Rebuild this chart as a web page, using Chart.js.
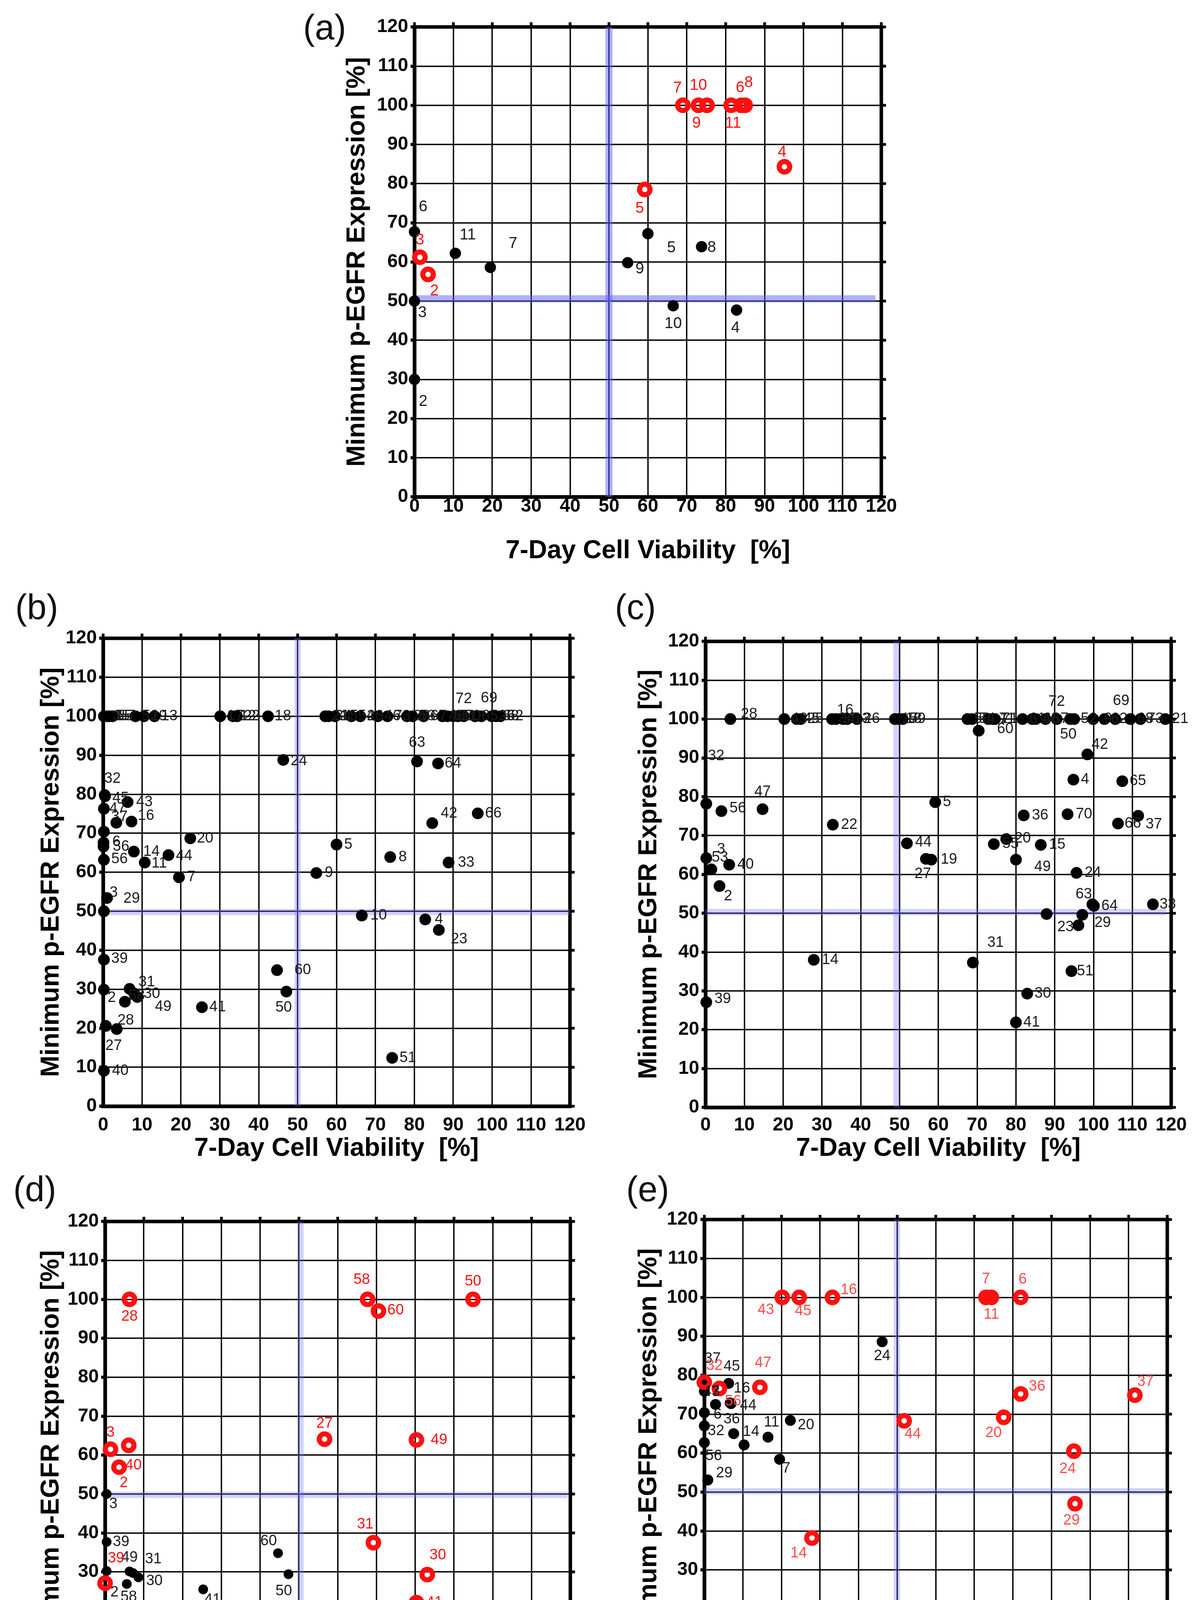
<!DOCTYPE html>
<html>
<head>
<meta charset="utf-8">
<title>p-EGFR vs cell viability</title>
<script src="https://cdn.jsdelivr.net/npm/chart.js@4.4.0/dist/chart.umd.min.js"></script>
<style>
  body { margin: 0; background: #fff; width: 3059px; height: 4495px; position: relative; overflow: hidden; }
  canvas { position: absolute; }
  .tag { position: absolute; font-family: 'Liberation Sans', Arial, sans-serif; font-size: 90px; line-height: 1; color: #111; }
</style>
</head>
<body>
<div class="tag" style="left:776px;top:25px">(a)</div>
<div class="tag" style="left:39px;top:1509px">(b)</div>
<div class="tag" style="left:1574px;top:1509px">(c)</div>
<div class="tag" style="left:34px;top:2999px">(d)</div>
<div class="tag" style="left:1603px;top:2999px">(e)</div>
<canvas id="chartA"></canvas>
<canvas id="chartB"></canvas>
<canvas id="chartC"></canvas>
<canvas id="chartD"></canvas>
<canvas id="chartE"></canvas>
<script>
// axis ticks shared by all panels
const tickValues = [0, 10, 20, 30, 40, 50, 60, 70, 80, 90, 100, 110, 120];
const xTitle = '7-Day Cell Viability  [%]';
const yTitle = 'Minimum p-EGFR Expression [%]';

// ---- panel (a) ----
const aBlackIds = ['2', '3', '6', '11', '7', '9', '5', '10', '8', '4'];
const aBlackX = [0, 0, 0, 10.5, 19.5, 54.8, 60, 66.5, 73.8, 82.8];
const aBlackY = [30, 50, 67.7, 62.2, 58.6, 59.8, 67.2, 48.8, 63.9, 47.7];
const aRedIds = ['7', '9', '10', '11', '6', '8', '5', '4', '3', '2'];
const aRedX = [69, 73, 75.2, 81.4, 84, 85, 59.2, 95.1, 1.4, 3.5];
const aRedY = [100, 100, 100, 100, 100, 100, 78.5, 84.3, 61.2, 56.8];
const aGuides = [50, 50.6, 118.5];

// ---- panel (b) ----
const bRowIds = ['1', '35', '55', '57', '52', '19', '13', '17', '12', '22', '18', '21', '34', '15', '54', '26',
  '46', '73', '38', '53', '67', '48', '61', '71', '70', '72', '65', '69', '25', '68', '62'];
const bRowX = [0.2, 0.9, 1.6, 2.4, 8.3, 10.5, 13.2, 30.1, 33.4, 34.4, 42.4, 57.1, 57.9, 59.6, 63.8, 66.1,
  70.6, 73.1, 78.1, 79.5, 82.4, 87.2, 88.5, 90, 91.2, 92.7, 95.6, 97.2, 99.9, 101, 102.1];
const bRowY = [100, 100, 100, 100, 100, 100, 100, 100, 100, 100, 100, 100, 100, 100, 100, 100,
  100, 100, 100, 100, 100, 100, 100, 100, 100, 100, 100, 100, 100, 100, 100];
const bBlackIds = ['24', '63', '64', '32', '45', '43', '47', '37', '16', '', '6', '36', '14', '56', '11', '44',
  '20', '7', '5', '9', '8', '33', '66', '42', '29', '3', '10', '4', '23', '39', '60', '50', '41', '31', '49',
  '30', '58', '2', '28', '27', '40', '51'];
const bBlackX = [46.3, 80.7, 86.1, 0.4, 0.5, 6.3, 0.2, 3.4, 7.3, 0.2, 0.1, 0.1, 7.9, 0.2, 10.7, 16.8,
  22.4, 19.5, 60, 54.8, 73.8, 88.8, 96.3, 84.6, 1.0, 0.2, 66.5, 82.8, 86.3, 0.2, 44.7, 47.1, 25.4, 6.8, 8.0,
  8.8, 5.6, 0.2, 3.5, 0.7, 0.2, 74.3];
const bBlackY = [88.8, 88.4, 87.9, 79.8, 79.5, 78.0, 76.3, 72.7, 73.0, 70.4, 67.6, 66.6, 65.3, 63.2, 62.5, 64.4,
  68.7, 58.7, 67.1, 59.8, 63.9, 62.5, 75.1, 72.6, 53.4, 50, 48.9, 47.9, 45.2, 37.6, 34.9, 29.4, 25.4, 30.1, 28.9,
  28.0, 26.8, 29.9, 19.8, 20.6, 9.1, 12.4];
const bGuides = [50, 49.8, 120];

// ---- panel (c) ----
const cRowIds = ['28', '43', '45', '25', '34', '35', '16', '13', '26', '17', '18', '59', '58', '54', '7', '11',
  '71', '61', '6', '46', '67', '72', '50', '52', '9', '62', '69', '68', '73', '21'];
const cRowX = [6.4, 20.3, 23.5, 24.5, 32.6, 33.6, 35.5, 36.5, 39, 48.8, 49.8, 50.8, 67.5, 68.7, 72.9, 74,
  74.6, 81.7, 84.2, 85.1, 87.6, 90.5, 94, 95, 99.9, 102.8, 105.6, 109.5, 112.1, 118.5];
const cRowY = [100, 100, 100, 100, 100, 100, 100, 100, 100, 100, 100, 100, 100, 100, 100, 100,
  100, 100, 100, 100, 100, 100, 100, 100, 100, 100, 100, 100, 100, 100];
const cBlackIds = ['60', '32', '', '56', '47', '22', '5', '44', '27', '19', '3', '53', '40', '2', '14', '39',
  '31', '30', '41', '51', '36', '70', '55', '20', '49', '15', '24', '4', '42', '65', '66', '37', '29', '63',
  '64', '23', '', '33'];
const cBlackX = [70.4, -3, 0.2, 4.1, 14.7, 32.8, 59.2, 51.9, 56.8, 58.2, 0.2, 1.5, 6.1, 3.6, 27.9, 0.2,
  68.9, 82.9, 80, 94.3, 82, 93.3, 74.3, 77.5, 80, 86.4, 95.6, 94.8, 98.4, 107.4, 106.3, 111.5, 97.1, 99.7,
  100.1, 96.1, 87.9, 115.3];
const cBlackY = [97, 91, 78.2, 76.3, 76.8, 72.8, 78.6, 68, 64, 63.8, 64.2, 61.3, 62.5, 57, 38, 27.1,
  37.3, 29.3, 21.9, 35.1, 75.2, 75.5, 67.8, 69.1, 63.8, 67.6, 60.4, 84.4, 90.9, 84, 73.1, 75.1, 49.6, 52.3,
  51.9, 46.9, 49.8, 52.3];
const cGuides = [49.2, 50.3, 118.7];

// ---- panel (d) ----
const dBlackIds = ['3', '39', '49', '31', '30', '58', '2', '27', '28', '40', '41', '60', '50'];
const dBlackX = [0.4, 0.4, 6.3, 7.2, 8.6, 5.6, 0.4, 1.1, 3.5, 0.4, 25.3, 44.6, 47.3];
const dBlackY = [50, 37.7, 30.1, 29.7, 28.6, 26.9, 30.2, 20.9, 20, 9.4, 25.5, 34.8, 29.4];
const dRedIds = ['28', '58', '60', '50', '27', '49', '3', '40', '2', '31', '30', '41', '39'];
const dRedX = [6.3, 67.7, 70.5, 94.9, 56.6, 80.3, 1.4, 6.1, 3.6, 69.2, 83.1, 80.3, 0];
const dRedY = [100, 100, 97, 100, 64.1, 63.9, 61.5, 62.5, 56.9, 37.5, 29.3, 22.1, 27.1];
const dGuides = [50.4, 49.8, 119.3];

// ---- panel (e) ----
const eBlackIds = ['37', '45', '47', '43', '16', '44', '6', '32', '36', '14', '11', '20', '56', '29', '7', '24'];
const eBlackX = [0, 6.3, 0, 2.9, 6.7, 6.9, 0, 0, 7.6, 10.3, 16.5, 22.3, 0, 0.9, 19.5, 46.1];
const eBlackY = [78, 77.9, 75.9, 72.5, 72.9, 72.7, 70.4, 67, 65, 62.1, 64.1, 68.4, 62.7, 53.1, 58.4, 88.6];
const eRedIds = ['43', '45', '16', '7', '11', '6', '32', '56', '47', '36', '44', '20', '24', '29', '37', '14'];
const eRedX = [20.2, 24.6, 33.2, 73, 74.4, 82, 0, 3.9, 14.4, 82, 51.8, 77.6, 95.8, 96.1, 111.6, 27.9];
const eRedY = [100, 100, 100, 100, 100, 100, 78.2, 76.6, 76.9, 75.2, 68.3, 69.2, 60.5, 47, 74.9, 38.2];
const eGuides = [49.9, 50.2, 119.3];

// label placement (pixel nudges from each mark; null = just right of the mark)
const aBlackNudge = [[22, 57], [20, 30], [22, -63], [32, -46], [58, -61], [31, 16], [60, 37], [0, 46], [26, 3], [-3, 46]];
const aRedNudge = [[-14, -44], [-5, 46], [-22, -51], [5, 46], [-3, -45], [9, -58], [-13, 49], [-6, -37], [0, -44], [16, 42]];
const bRowNudge = bRowIds.map(id => id === '72' ? [0, -44] : id === '69' ? [20, -46] : null);
const bBlackNudge = [[40, 3], [0, -48], [38, 0], [20, -42], [40, 5], [43, 0], [35, 0], [8, -15], [37, -15], null,
  [33, -2], [45, 0], [45, 0], [40, -2], [37, 2], [40, 2], [38, 0], [32, 0], [30, 0], [32, 0], [32, 0], [45, 0],
  [40, 0], [43, -25], [63, 2], [25, -47], [43, 0], [35, 0], [52, 24], [40, -2], [66, 0], [-7, 41], [40, 0],
  [44, -17], [74, 34], [37, -8], [30, -15], [20, 21], [23, -22], [20, 51], [42, 0], [40, 0]];
const cRowNudge = cRowIds.map(id => id === '28' ? [48, -12] : id === '16' ? [5, -22] : id === '72' ? [0, -44]
  : id === '50' ? [-5, 40] : id === '69' ? [15, -46] : null);
const cBlackNudge = [[68, -4], [57, 5], null, [42, -7], [0, -44], [42, 0], [30, 0], [42, -2], [-8, 39], [45, 0],
  [38, -22], [22, -30], [42, 0], [22, 26], [42, 0], [42, -8], [58, -51], [40, 0], [40, 0], [35, 0], [42, 0],
  [42, 0], [43, 0], [42, -2], [68, 19], [42, 0], [42, 0], [30, 0], [32, -25], [40, 0], [38, 0], [40, 22],
  [52, 21], [-22, -26], [40, 0], [-33, 5], null, [38, 0]];
const dBlackNudge = [[17, 26], [37, 0], [0, -35], [52, -35], [41, 10], [5, 34], [20, 55], [18, 50], [42, 24],
  [39, 10], [24, 27], [-24, -31], [-12, 44]];
const dRedNudge = [[0, 44], [-15, -50], [44, -2], [0, -46], [0, -40], [58, 0], [0, -43], [12, 51], [12, 41],
  [-21, -47], [27, -49], [46, 0], [28, -63]];
const eBlackNudge = [[21, -62], [8, -43], [18, 2], [-10, -32], [30, -37], [44, 5], [34, 5], [30, 13], [-5, -37],
  [18, -34], [9, -38], [40, 12], [24, 34], [42, -17], [17, 24], [0, 37]];
const eRedNudge = [[-42, 32], [10, 35], [42, -19], [0, -47], [0, 44], [5, -46], [26, -42], [35, 33], [8, -62],
  [42, -19], [22, 34], [-26, 40], [-16, 45], [-9, 43], [27, -34], [-34, 39]];

const FONT = "'Liberation Sans', Arial, sans-serif";
const PAD_T = 60;
const PAD_R = 58;

function toPoints(xs, ys) {
  return xs.map((x, i) => ({ x: x, y: ys[i] }));
}

function dots(xs, ys, ids, nudges, r) {
  return {
    data: toPoints(xs, ys), tags: ids, nudges: nudges,
    tagColor: '#1c1c1c', order: 2, clip: 20,
    pointRadius: r, pointBackgroundColor: '#000', pointBorderWidth: 0
  };
}

function rings(xs, ys, ids, nudges, textColor) {
  return {
    data: toPoints(xs, ys), tags: ids, nudges: nudges,
    tagColor: textColor, order: 1, clip: 26,
    pointRadius: 13.5, pointBorderWidth: 13, pointBorderColor: '#ff1010',
    pointBackgroundColor: 'rgba(0,0,0,0)'
  };
}

function guides(g, color, width) {
  const line = (pts) => ({
    data: pts, showLine: true, pointRadius: 0, borderColor: color,
    borderWidth: width, borderCapStyle: 'butt', order: 3
  });
  return [
    line([{ x: g[0], y: 0 }, { x: g[0], y: 120 }]),
    line([{ x: 0, y: g[1] }, { x: g[2], y: g[1] }])
  ];
}

// thick box round the plot with small outside ticks on top and right
const framePlugin = {
  id: 'frame',
  beforeDatasetsDraw(chart) {
    const { ctx, chartArea: a, scales } = chart;
    ctx.save();
    ctx.strokeStyle = '#000';
    ctx.lineWidth = 7;
    ctx.beginPath();
    scales.x.ticks.forEach(t => {
      const px = scales.x.getPixelForValue(t.value);
      ctx.moveTo(px, a.top); ctx.lineTo(px, a.top - 12);
    });
    scales.y.ticks.forEach(t => {
      const py = scales.y.getPixelForValue(t.value);
      ctx.moveTo(a.right, py); ctx.lineTo(a.right + 12, py);
    });
    ctx.stroke();
    ctx.lineWidth = 9;
    ctx.strokeRect(a.left, a.top, a.right - a.left, a.bottom - a.top);
    ctx.restore();
  }
};

// sample numbers next to each mark
const tagPlugin = {
  id: 'tags',
  afterDatasetsDraw(chart) {
    const ctx = chart.ctx;
    const size = chart.options.tagSize;
    chart.data.datasets.forEach((ds, i) => {
      if (!ds.tags) return;
      const meta = chart.getDatasetMeta(i);
      ctx.save();
      ctx.font = size + 'px ' + FONT;
      ctx.fillStyle = ds.tagColor;
      ctx.textAlign = 'center';
      ctx.textBaseline = 'middle';
      meta.data.forEach((pt, j) => {
        const id = ds.tags[j];
        if (!id) return;
        const n = (ds.nudges && ds.nudges[j]) || [38, 0];
        ctx.fillText(id, pt.x + n[0], pt.y + n[1]);
      });
      ctx.restore();
    });
  }
};

function axis(title, isX, p) {
  return {
    type: 'linear', min: 0, max: 120,
    afterBuildTicks: (s) => { s.ticks = tickValues.map(v => ({ value: v })); },
    afterFit: (s) => { if (isX) s.height = p.axisH; else s.width = p.axisW; },
    grid: {
      color: '#000', lineWidth: 3.5,
      drawTicks: !isX, tickLength: 10, tickWidth: 8, tickColor: '#000'
    },
    border: { display: true, color: '#000', width: 9 },
    ticks: {
      color: '#000', autoSkip: false, maxRotation: 0,
      padding: isX ? p.xTickPad : 6,
      font: { family: FONT, size: 48, weight: 'bold' }
    },
    title: {
      display: true, text: title, color: '#000',
      padding: isX ? { top: 0, bottom: 4 } : { top: 0, bottom: 0 },
      font: { family: FONT, size: 66, weight: 'bold', lineHeight: 1.2 }
    }
  };
}

function buildPanel(p) {
  const cv = document.getElementById(p.canvas);
  const w = p.axisW + p.plotW + PAD_R;
  const h = PAD_T + p.plotH + p.axisH;
  cv.width = w;
  cv.height = h;
  cv.style.left = p.left + 'px';
  cv.style.top = p.top + 'px';
  cv.style.width = w + 'px';
  cv.style.height = h + 'px';
  return new Chart(cv, {
    type: 'scatter',
    data: { datasets: guides(p.guides, p.guideColor, p.guideWidth).concat(p.series) },
    options: {
      responsive: false, animation: false, devicePixelRatio: 1, events: [],
      tagSize: p.tagSize,
      layout: { padding: { top: PAD_T, right: PAD_R, left: 0, bottom: 0 } },
      plugins: { legend: { display: false }, tooltip: { enabled: false } },
      scales: { x: axis(xTitle, true, p), y: axis(yTitle, false, p) }
    },
    plugins: [framePlugin, tagPlugin]
  });
}

const softBlue = 'rgba(115,115,255,0.33)';

const panels = [
  {
    canvas: 'chartA', left: 875, top: 9, axisW: 186, axisH: 182, plotW: 1195, plotH: 1203, xTickPad: -4,
    guides: aGuides, guideColor: 'rgba(95,95,255,0.5)', guideWidth: 18, tagSize: 40,
    series: [dots(aBlackX, aBlackY, aBlackIds, aBlackNudge, 14.5),
      rings(aRedX, aRedY, aRedIds, aRedNudge, '#ff1010')]
  },
  {
    canvas: 'chartB', left: 92, top: 1574, axisW: 172, axisH: 152, plotW: 1197, plotH: 1198, xTickPad: 20,
    guides: bGuides, guideColor: softBlue, guideWidth: 16, tagSize: 38,
    series: [dots(bRowX, bRowY, bRowIds, bRowNudge, 15),
      dots(bBlackX, bBlackY, bBlackIds, bBlackNudge, 15)]
  },
  {
    canvas: 'chartC', left: 1622, top: 1582, axisW: 184, axisH: 149, plotW: 1192, plotH: 1193, xTickPad: 17,
    guides: cGuides, guideColor: softBlue, guideWidth: 16, tagSize: 38,
    series: [dots(cRowX, cRowY, cRowIds, cRowNudge, 15),
      dots(cBlackX, cBlackY, cBlackIds, cBlackNudge, 15)]
  },
  {
    canvas: 'chartD', left: 92, top: 3067, axisW: 177, axisH: 141, plotW: 1192, plotH: 1196, xTickPad: 19,
    guides: dGuides, guideColor: softBlue, guideWidth: 16, tagSize: 38,
    series: [dots(dBlackX, dBlackY, dBlackIds, dBlackNudge, 12.5),
      rings(dRedX, dRedY, dRedIds, dRedNudge, '#ff1010')]
  },
  {
    canvas: 'chartE', left: 1622, top: 3062, axisW: 181, axisH: 146, plotW: 1187, plotH: 1196, xTickPad: 20,
    guides: eGuides, guideColor: softBlue, guideWidth: 16, tagSize: 38,
    series: [dots(eBlackX, eBlackY, eBlackIds, eBlackNudge, 14),
      rings(eRedX, eRedY, eRedIds, eRedNudge, '#ff4a4a')]
  }
];

panels.forEach(buildPanel);
</script>
</body>
</html>
